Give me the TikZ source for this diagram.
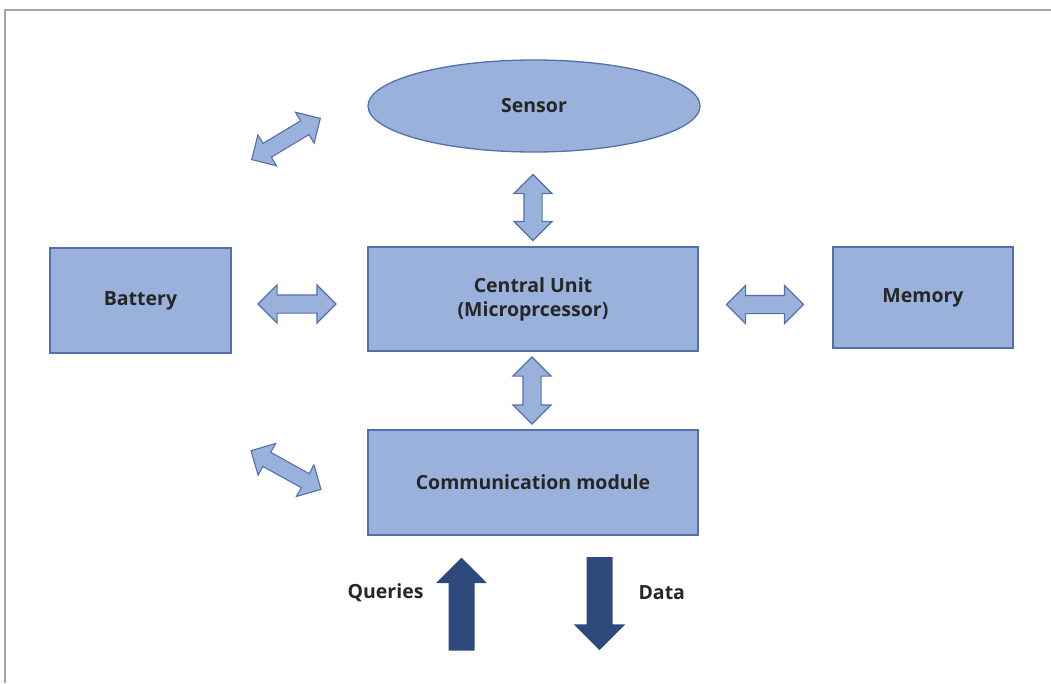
\documentclass[tikz,border=0pt]{standalone}
\usepackage{fontspec}
\setmainfont{Open Sans}
\usepackage{xcolor}
\usetikzlibrary{shapes.geometric,shapes.arrows}
\definecolor{boxfill}{RGB}{154,178,219}
\definecolor{boxline}{RGB}{82,112,170}
\definecolor{darkarrow}{RGB}{46,74,124}
\definecolor{txt}{RGB}{38,38,38}
\definecolor{framegray}{RGB}{165,165,165}
\begin{document}
\begin{tikzpicture}[x=1pt,y=-1pt,
	block/.style={draw=boxline,fill=boxfill,line width=1.3pt,text=txt,font=\fontsize{19.5}{24}\selectfont\bfseries,align=center,inner sep=0pt},
	dblarrow/.style={double arrow,draw=boxline,fill=boxfill,line width=1.1pt,inner xsep=0pt,inner ysep=8.5pt,double arrow head extend=10pt,double arrow tip angle=90,minimum height=#1},
	flow/.style={single arrow,fill=darkarrow,inner xsep=0pt,inner ysep=12.8pt,single arrow head extend=12.7pt,single arrow tip angle=90,minimum height=93pt},
	lbl/.style={text=txt,font=\fontsize{19.5}{24}\selectfont\bfseries}]
			\useasboundingbox (0,0) rectangle (1051,683);
			\draw[framegray,line width=1.5pt] (5,683) -- (5,10) -- (1051,10);
			\node[block,ellipse,minimum width=332pt,minimum height=92pt] (sensor) at (534,106) {Sensor};
			\node[block,minimum width=330pt,minimum height=104pt] (cpu) at (533,299) {Central Unit\\(Microprcessor)};
			\node[block,minimum width=181pt,minimum height=105pt] (battery) at (140.5,300.5) {Battery};
			\node[block,minimum width=180pt,minimum height=101pt] (memory) at (923,297.5) {Memory};
			\node[block,minimum width=330pt,minimum height=105pt] (comm) at (533,482.5) {Communication module};
			% links between the blocks
			\node[dblarrow=66pt,rotate=90] (a1) at (533,207.5) {};
			\node[dblarrow=67pt,rotate=90] (a2) at (532,390.5) {};
			\node[dblarrow=78pt] (a3) at (297,304) {};
			\node[dblarrow=77pt] (a4) at (765,304.5) {};
			\node[dblarrow=80pt,rotate=31,inner ysep=7.5pt] (a5) at (286,139) {};
			\node[dblarrow=80pt,rotate=-29,inner ysep=7.5pt] (a6) at (286,470) {};
			% queries in, data out
			\node[flow,rotate=90] (qin) at (461.5,610.5) {};
			\node[flow,rotate=-90] (dout) at (599.5,597) {};
			\node[lbl,anchor=east] (qlbl) at (427,593) {Queries};
			\node[lbl,anchor=west] (dlbl) at (635,593) {Data};
		\end{tikzpicture}
\end{document}
